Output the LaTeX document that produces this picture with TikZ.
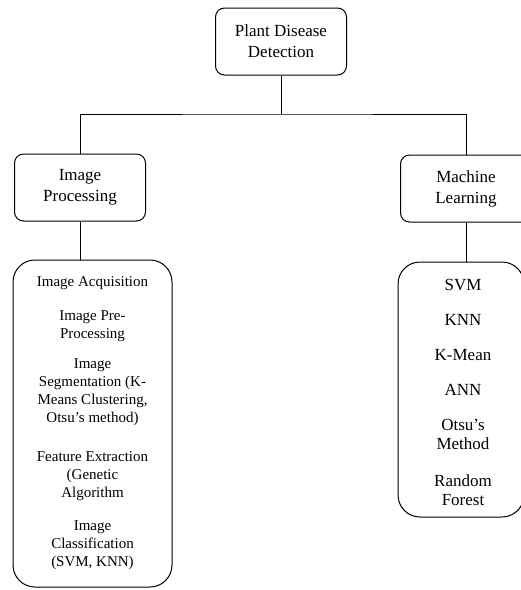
\documentclass[tikz,border=0pt]{standalone}
\usepackage{fontspec}
\setmainfont{Liberation Serif}
\begin{document}
\begin{tikzpicture}[x=1pt,y=-1pt,
  hdr/.style={draw, rounded corners=9pt, line width=1pt, minimum width=131pt, minimum height=67pt,
    align=center, font=\fontsize{17}{21}\selectfont, inner sep=0pt},
  bigbox/.style={draw, rounded corners=22pt, line width=1pt, inner sep=0pt},
  item/.style={align=center, font=\fontsize{15}{18}\selectfont, inner sep=0pt},
  mlitem/.style={align=center, font=\fontsize{17}{19}\selectfont, inner sep=0pt},
  conn/.style={line width=1pt}]
\useasboundingbox (0,0) rectangle (521,590);
\node[hdr] (root) at (281,41.5) {Plant Disease\\Detection};
\node[hdr] (ip) at (80,187.5) {Image\\Processing};
\node[hdr] (ml) at (466,188.5) {Machine\\Learning};
\node[bigbox, minimum width=159pt, minimum height=327pt] (ipl) at (92.5,423.5) {};
\node[bigbox, minimum width=126pt, minimum height=255pt] (mll) at (461,389.5) {};
\coordinate (j) at (281,114);
\draw[conn] (root.south) -- (j);
\draw[conn] (ip.north) |- (j) -| (ml.north);
\draw[conn] (ip.south) -- (ip.south |- ipl.north);
\draw[conn] (ml.south) -- (ml.south |- mll.north);
\node[item] (a1) at (92.5,283) {Image Acquisition};
\node[item] (a2) at (92.5,326) {Image Pre-\\Processing};
\node[item] (a3) at (92.5,392.5) {Image\\Segmentation (K-\\Means Clustering,\\Otsu’s method)};
\node[item] (a4) at (92.5,476.5) {Feature Extraction\\(Genetic\\Algorithm};
\node[item] (a5) at (92.5,545) {Image\\Classification\\(SVM, KNN)};
\node[mlitem] (b1) at (463,285) {SVM};
\node[mlitem] (b2) at (463,320) {KNN};
\node[mlitem] (b3) at (463,355) {K-Mean};
\node[mlitem] (b4) at (463,390) {ANN};
\node[mlitem] (b5) at (463,434) {Otsu’s\\Method};
\node[mlitem] (b6) at (463,490) {Random\\Forest};
\end{tikzpicture}
\end{document}
